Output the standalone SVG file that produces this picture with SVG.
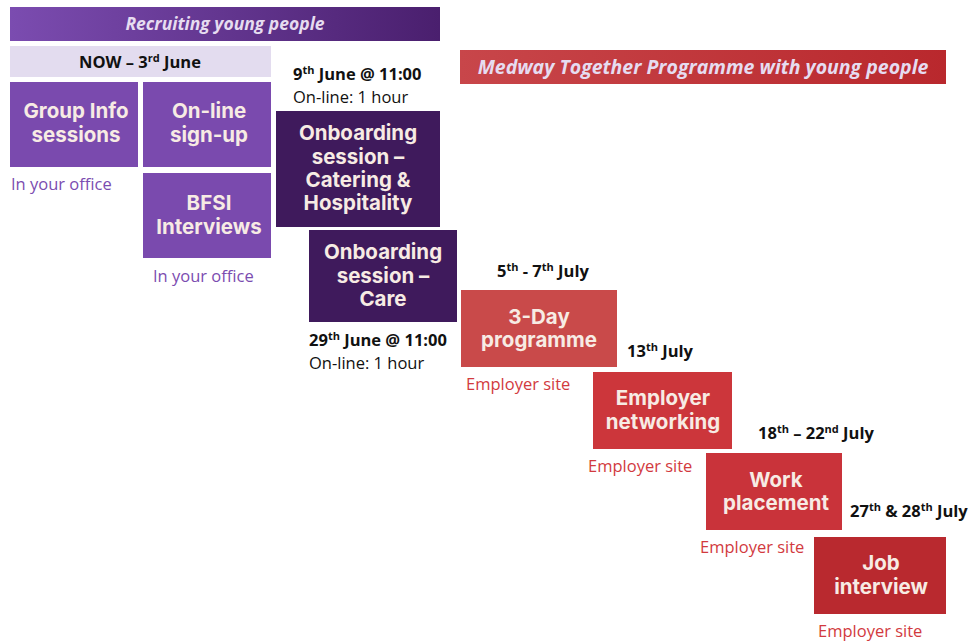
<svg xmlns="http://www.w3.org/2000/svg" width="975" height="641" viewBox="0 0 975 641">
  <defs>
    <linearGradient id="gPurpleBar" x1="0" y1="0" x2="1" y2="0">
      <stop offset="0" stop-color="#7b4cb0"/>
      <stop offset="1" stop-color="#4a1f6e"/>
    </linearGradient>
    <linearGradient id="gRedBar" x1="0" y1="0" x2="1" y2="0">
      <stop offset="0" stop-color="#c8464a"/>
      <stop offset="1" stop-color="#b9282d"/>
    </linearGradient>
  </defs>
  <style>
    .node-text { font-family: Inter, "Open Sans", sans-serif; font-weight: 700; font-size: 20.5px; fill: #f7ebe4; text-anchor: middle; }
    .bar-text { font-family: "Open Sans", "Noto Sans", sans-serif; font-weight: 700; font-style: italic; fill: #e6dcf0; text-anchor: middle; }
    .date { font-family: "Open Sans", "Noto Sans", sans-serif; font-weight: 700; font-size: 16.5px; fill: #111; }
    .plain { font-family: "Open Sans", "Noto Sans", sans-serif; font-size: 16.5px; fill: #111; }
    .loc-purple { font-family: "Open Sans", "Noto Sans", sans-serif; font-size: 16.5px; fill: #7b4cb0; }
    .loc-red { font-family: "Open Sans", "Noto Sans", sans-serif; font-size: 16.5px; fill: #d23a3e; }
    .sup { font-size: 11px; }
    .mid { fill: #7a4aae; }
    .dark { fill: #3f1a5c; }
  </style>

  <!-- Recruiting header -->
  <g id="recruiting-header">
    <rect x="10" y="7" width="430" height="34" fill="url(#gPurpleBar)"/>
    <text class="bar-text" x="225" y="30" font-size="17.5">Recruiting young people</text>
  </g>

  <g id="period-now">
    <rect x="10" y="46" width="261" height="31" fill="#e3dcef"/>
    <text class="date" x="140" y="68" text-anchor="middle">NOW – 3<tspan class="sup" dy="-6">rd</tspan><tspan dy="6"> June</tspan></text>
  </g>

  <g id="group-info">
    <rect class="mid" x="10" y="82" width="128" height="85"/>
    <text class="node-text" x="76" y="118">Group Info</text>
    <text class="node-text" x="76" y="142">sessions</text>
    <text class="loc-purple" x="11" y="190">In your office</text>
  </g>

  <g id="online-signup">
    <rect class="mid" x="143" y="82" width="128" height="85"/>
    <text class="node-text" x="209" y="118">On-line</text>
    <text class="node-text" x="209" y="142">sign-up</text>
  </g>

  <g id="bfsi-interviews">
    <rect class="mid" x="143" y="173" width="128" height="85"/>
    <text class="node-text" x="209" y="210">BFSI</text>
    <text class="node-text" x="209" y="234">Interviews</text>
    <text class="loc-purple" x="153" y="282">In your office</text>
  </g>

  <g id="onboarding-catering">
    <text class="date" x="293" y="80">9<tspan class="sup" dy="-6">th</tspan><tspan dy="6"> June @ 11:00</tspan></text>
    <text class="plain" x="293" y="103">On-line: 1 hour</text>
    <rect class="dark" x="276" y="111" width="164" height="116"/>
    <text class="node-text" x="358" y="140">Onboarding</text>
    <text class="node-text" x="358" y="164">session –</text>
    <text class="node-text" x="358" y="187">Catering &amp;</text>
    <text class="node-text" x="358" y="210">Hospitality</text>
  </g>

  <g id="onboarding-care">
    <rect class="dark" x="309" y="230" width="148" height="92"/>
    <text class="node-text" x="383" y="259">Onboarding</text>
    <text class="node-text" x="383" y="283">session –</text>
    <text class="node-text" x="383" y="306">Care</text>
    <text class="date" x="309" y="346">29<tspan class="sup" dy="-6">th</tspan><tspan dy="6"> June @ 11:00</tspan></text>
    <text class="plain" x="309" y="369">On-line: 1 hour</text>
  </g>

  <!-- Programme header -->
  <g id="programme-header">
    <rect x="460" y="50" width="486" height="34" fill="url(#gRedBar)"/>
    <text class="bar-text" x="703" y="74" font-size="19.5">Medway Together Programme with young people</text>
  </g>

  <g id="three-day">
    <text class="date" x="497" y="277">5<tspan class="sup" dy="-6">th</tspan><tspan dy="6"> - 7</tspan><tspan class="sup" dy="-6">th</tspan><tspan dy="6"> July</tspan></text>
    <rect x="461" y="290" width="156" height="77" fill="#c94a4a"/>
    <text class="node-text" x="539" y="324">3-Day</text>
    <text class="node-text" x="539" y="347">programme</text>
    <text class="loc-red" x="466" y="390">Employer site</text>
  </g>

  <g id="employer-networking">
    <text class="date" x="627" y="357">13<tspan class="sup" dy="-6">th</tspan><tspan dy="6"> July</tspan></text>
    <rect x="593" y="372" width="139" height="77" fill="#cc363b"/>
    <text class="node-text" x="663" y="405">Employer</text>
    <text class="node-text" x="663" y="429">networking</text>
    <text class="loc-red" x="588" y="472">Employer site</text>
  </g>

  <g id="work-placement">
    <text class="date" x="758" y="439">18<tspan class="sup" dy="-6">th</tspan><tspan dy="6"> – 22</tspan><tspan class="sup" dy="-6">nd</tspan><tspan dy="6"> July</tspan></text>
    <rect x="706" y="453" width="136" height="77" fill="#c9333a"/>
    <text class="node-text" x="776" y="487">Work</text>
    <text class="node-text" x="776" y="510">placement</text>
    <text class="loc-red" x="700" y="553">Employer site</text>
  </g>

  <g id="job-interview">
    <text class="date" x="850" y="517">27<tspan class="sup" dy="-6">th</tspan><tspan dy="6"> &amp; 28</tspan><tspan class="sup" dy="-6">th</tspan><tspan dy="6"> July</tspan></text>
    <rect x="814" y="537" width="132" height="77" fill="#b9292f"/>
    <text class="node-text" x="881" y="570">Job</text>
    <text class="node-text" x="881" y="594">interview</text>
    <text class="loc-red" x="818" y="637">Employer site</text>
  </g>

  <!-- no connectors in this chart -->
  <g id="connectors"/>
</svg>
